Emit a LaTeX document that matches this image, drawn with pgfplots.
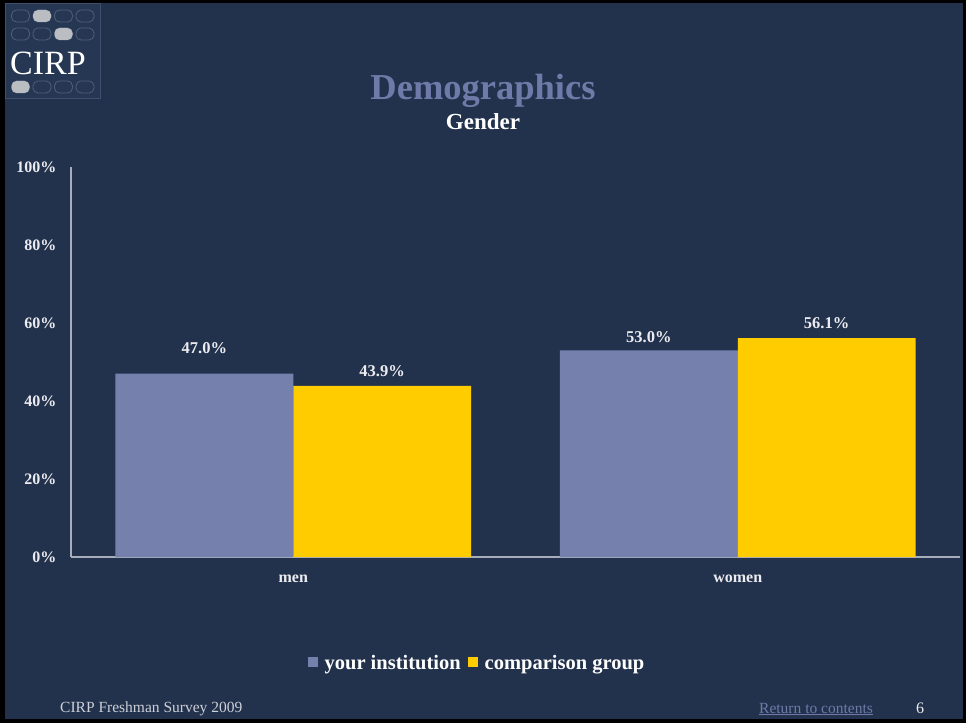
\documentclass[border=0pt]{standalone}
\usepackage{fontspec}
\setmainfont{Liberation Serif}
\usepackage{pgfplots}
\usepackage{pgfplotstable}
\pgfplotsset{compat=1.18}

\definecolor{slidebg}{RGB}{34,50,77}
\definecolor{logobg}{RGB}{38,55,84}
\definecolor{logoline}{RGB}{80,94,122}
\definecolor{logofill}{RGB}{186,189,193}
\definecolor{instblue}{RGB}{118,128,173}
\definecolor{compyellow}{RGB}{255,204,0}
\definecolor{titlelav}{RGB}{112,122,168}
\definecolor{axisgray}{RGB}{168,173,188}
\definecolor{softwhite}{RGB}{236,236,240}

% x = category (0 men, 1 women), y = percent, off = label offset above bar (pt)
\pgfplotstableread{
x y off
0 47.0 26
1 53.0 13
}\institution
\pgfplotstableread{
x y off
0 43.9 15
1 56.1 15
}\comparison

\newcommand{\px}[1]{\fontsize{#1}{#1}\selectfont}

\begin{document}
\begin{tikzpicture}[x=1pt,y=1pt]
% slide frame
\fill[black] (0,0) rectangle (966,723);
\fill[slidebg] (5,4) rectangle (963,720);
\path[use as bounding box] (0,0) rectangle (966,723);

% logo
\filldraw[fill=logobg,draw=logoline!60!logobg] (5,625) rectangle (100,720);
\foreach \cx in {20.5,42,63.5,85}{
  \foreach \cy in {707,689,636}{
    \draw[logoline,line width=0.8pt,rounded corners=5pt] (\cx-9,\cy-6) rectangle (\cx+9,\cy+6);
  }
}
\fill[logofill,rounded corners=5pt] (33,701) rectangle (51,713);
\fill[logofill,rounded corners=5pt] (54.5,683) rectangle (72.5,695);
\fill[logofill,rounded corners=5pt] (11.5,630) rectangle (29.5,642);
\node[anchor=base,text=white,font=\px{34},inner sep=0pt] at (48,648) {CIRP};

% titles
\node[anchor=base,text=titlelav,font=\px{36.5}\bfseries,inner sep=0pt] at (483,623) {Demographics};
\node[anchor=base,text=white,font=\px{23}\bfseries,inner sep=0pt] at (483,593) {Gender};

% footer
\node[anchor=base west,text=softwhite!85!slidebg,font=\px{15.5},inner sep=0pt] at (60,11) {CIRP Freshman Survey 2009};
\node[anchor=base west,text=titlelav,font=\px{15.5},inner sep=0pt] at (759,10) {\underline{Return to contents}};
\node[anchor=base,text=softwhite,font=\px{16},inner sep=0pt] at (920,10) {6};

\begin{axis}[
  at={(71pt,166pt)}, anchor=south west,
  scale only axis,
  width=889pt, height=390pt,
  ybar=0pt, bar width=0.4,
  xmin=-0.5, xmax=1.5,
  ymin=0, ymax=100,
  axis x line=bottom, axis y line=left,
  axis line style={-,draw=axisgray,line width=1.4pt},
  major tick length=0pt,
  xtick={0,1}, xticklabels={men,women},
  ytick={0,20,40,60,80,100},
  yticklabels={0\%,20\%,40\%,60\%,80\%,100\%},
  xticklabel style={font=\px{16}\bfseries,text=softwhite,anchor=center,yshift=-22pt},
  yticklabel style={font=\px{16}\bfseries,text=softwhite,anchor=east,xshift=-11pt},
  /pgf/number format/assume math mode=true,
  nodes near coords={\pgfmathprintnumber[fixed,fixed zerofill,precision=1]{\pgfplotspointmeta}\%},
  every node near coord/.append style={font=\px{16.5}\bfseries,text=softwhite,anchor=center,yshift=\off pt},
  visualization depends on={\thisrow{off}\as\off},
  legend columns=2,
  legend style={at={(0.4567,-0.2718)},anchor=center,draw=none,fill=none,
    font=\px{20.5}\bfseries,text=white,column sep=5pt},
  legend image code/.code={\fill[#1] (-4pt,-4pt) rectangle (6pt,6pt);},
  clip=false,
]
\addplot[fill=instblue,draw=none] table[x=x,y=y,meta=y] {\institution};
\addplot[fill=compyellow,draw=none] table[x=x,y=y,meta=y] {\comparison};
\legend{your institution,comparison group}
\end{axis}
\end{tikzpicture}
\end{document}
